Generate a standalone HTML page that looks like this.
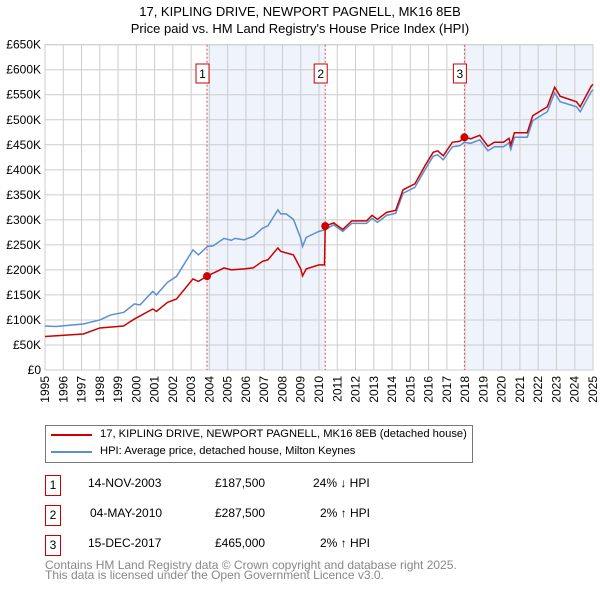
<!DOCTYPE html>
<html><head><meta charset="utf-8">
<style>
body{margin:0;background:#fff;font-family:"Liberation Sans","DejaVu Sans",sans-serif;}
#wrap{position:relative;width:600px;height:590px;overflow:hidden;}
.t{position:absolute;font-size:12px;color:#000;white-space:nowrap;}
.badge{position:absolute;width:14px;height:19px;border:1px solid #c00;font-size:12px;text-align:center;line-height:19px;}
</style></head><body>
<div id="wrap">
<svg id="chart" width="600" height="420" style="position:absolute;left:0;top:0">
<text x="300" y="16" text-anchor="middle" font-size="13">17, KIPLING DRIVE, NEWPORT PAGNELL, MK16 8EB</text>
<text x="300" y="33" text-anchor="middle" font-size="13">Price paid vs. HM Land Registry's House Price Index (HPI)</text>
<g id="g"></g>
</svg>
<div style="position:absolute;left:45px;top:425px;width:426px;height:36px;border:1px solid #777;">
<div style="position:absolute;left:5px;top:8px;width:41px;height:2px;background:#c00"></div>
<div class="t" style="left:54px;top:2px;font-size:11.2px">17, KIPLING DRIVE, NEWPORT PAGNELL, MK16 8EB (detached house)</div>
<div style="position:absolute;left:5px;top:25px;width:41px;height:2px;background:#5b8fd0"></div>
<div class="t" style="left:54px;top:19px;font-size:11.2px">HPI: Average price, detached house, Milton Keynes</div>
</div>
<div>
<div class="badge" style="left:45px;top:475px">1</div>
<div class="t" style="left:88px;top:476px">14-NOV-2003</div>
<div class="t" style="left:215px;top:476px">£187,500</div>
<div class="t" style="left:313px;top:476px">24% ↓ HPI</div>
<div class="badge" style="left:45px;top:505px">2</div>
<div class="t" style="left:90px;top:506px">04-MAY-2010</div>
<div class="t" style="left:215px;top:506px">£287,500</div>
<div class="t" style="left:320px;top:506px">2% ↑ HPI</div>
<div class="badge" style="left:45px;top:535px">3</div>
<div class="t" style="left:88px;top:536px">15-DEC-2017</div>
<div class="t" style="left:215px;top:536px">£465,000</div>
<div class="t" style="left:320px;top:536px">2% ↑ HPI</div>
</div>
<div class="t" style="left:45px;top:560px;color:#888;font-size:12px;line-height:10px">Contains HM Land Registry data © Crown copyright and database right 2025.<br>This data is licensed under the Open Government Licence v3.0.</div>
</div>
<script>
const yTicks=[0,50,100,150,200,250,300,350,400,450,500,550,600,650];
const yTickLabels=["£0","£50K","£100K","£150K","£200K","£250K","£300K","£350K","£400K","£450K","£500K","£550K","£600K","£650K"];
const xYears=[1995,1996,1997,1998,1999,2000,2001,2002,2003,2004,2005,2006,2007,2008,2009,2010,2011,2012,2013,2014,2015,2016,2017,2018,2019,2020,2021,2022,2023,2024,2025];
const saleDates=[2003.87,2010.34,2017.96];
const salePrices=[187.5,287.5,465];
const saleLabels=["1","2","3"];
const hpiDates=[1995.0,1995.6,1997.1,1998.0,1998.6,1999.3,1999.9,2000.2,2000.9,2001.1,2001.7,2002.2,2003.1,2003.4,2003.9,2004.2,2004.8,2005.2,2005.4,2005.9,2006.4,2006.9,2007.2,2007.75,2007.9,2008.2,2008.6,2009.0,2009.1,2009.3,2010.0,2010.3,2010.8,2011.3,2011.8,2012.6,2012.9,2013.2,2013.7,2014.2,2014.6,2015.25,2015.8,2016.25,2016.5,2016.8,2017.3,2017.7,2017.95,2018.3,2018.8,2019.25,2019.6,2020.1,2020.4,2020.5,2020.7,2021.4,2021.7,2022.5,2022.9,2023.2,2024.1,2024.3,2024.9,2025.0];
const hpiValues=[88,87,92,100,110,115,132,130,157,150,175,187,240,230,247,248,263,259,263,260,267,283,288,320,312,312,301,263,247,265,277,280,290,277,293,293,303,295,309,313,353,365,400,427,430,420,446,448,455,453,460,438,446,446,454,441,465,465,498,516,554,536,526,516,556,560];
const propDates=[1995.0,1997.1,1998.0,1999.3,1999.9,2000.9,2001.1,2001.7,2002.2,2003.1,2003.4,2003.87,2004.8,2005.2,2005.9,2006.4,2006.9,2007.2,2007.75,2007.9,2008.6,2009.0,2009.1,2009.3,2010.0,2010.3,2010.34,2010.8,2011.3,2011.8,2012.6,2012.9,2013.2,2013.7,2014.2,2014.6,2015.25,2015.8,2016.25,2016.5,2016.8,2017.3,2017.7,2017.96,2018.3,2018.8,2019.25,2019.6,2020.1,2020.4,2020.5,2020.7,2021.4,2021.7,2022.5,2022.9,2023.2,2024.1,2024.3,2024.9,2025.0];
const propValues=[67,72,84,88,102,122,117,135,142,182,177,187.5,204,200,202,204,217,220,244,237,230,202,188,202,210,210,287.5,294,281,298,298,309,301,315,319,360,372,408,435,438,428,455,457,465,462,469,447,455,455,463,450,474,474,508,526,565,547,536,526,567,571];
const X0=45,X1=593,Y0=370,Y1=44.7;
const xs=y=>X0+(y-1995)/30*(X1-X0);
const ys=v=>Y0-v/650*(Y0-Y1);
const NS="http://www.w3.org/2000/svg";
const g=document.getElementById('g');
function mk(tag,attrs){const e=document.createElementNS(NS,tag);for(const k in attrs)e.setAttribute(k,attrs[k]);g.appendChild(e);return e;}
const sh1=mk('rect',{x:xs(saleDates[0]),y:Y1,width:xs(saleDates[1])-xs(saleDates[0]),height:Y0-Y1,fill:'#eef3fc'});


const sh2=mk('rect',{x:xs(saleDates[2]),y:Y1,width:X1-xs(saleDates[2]),height:Y0-Y1,fill:'#eef3fc'});


yTicks.forEach((v,i)=>{
 const l=mk('line',{x1:X0,x2:X1,y1:ys(v),y2:ys(v),stroke:'#ccc','stroke-width':1});
 
 
 const t=mk('text',{x:41,y:ys(v)+4,'text-anchor':'end','font-size':12});
 t.textContent=yTickLabels[i];
 
 
});
xYears.forEach(yr=>{
 const l=mk('line',{x1:xs(yr),x2:xs(yr),y1:Y1,y2:Y0,stroke:'#ccc','stroke-width':1});
 
 
 const t=mk('text',{x:0,y:0,'text-anchor':'end','font-size':12,transform:`translate(${xs(yr)+4},376) rotate(-90)`});
 t.textContent=yr;
 
 
});
const fr=mk('rect',{x:X0,y:Y1,width:X1-X0,height:Y0-Y1,fill:'none',stroke:'#ccc'});


saleDates.forEach((d,i)=>{
 const l=mk('line',{x1:xs(d),x2:xs(d),y1:Y1,y2:Y0,stroke:'#e05050','stroke-width':1,'stroke-dasharray':'2,2'});
 
 
 const r=mk('rect',{x:xs(d)-11,y:64,width:13,height:19,fill:'#fff',stroke:'#c00'});
 
 
 const t=mk('text',{x:xs(d)-4.5,y:78,'text-anchor':'middle','font-size':12});
 t.textContent=saleLabels[i];
 
 
});
const hp=mk('polyline',{points:hpiDates.map((d,i)=>xs(d)+','+ys(hpiValues[i])).join(' '),fill:'none',stroke:'#5b8fd0','stroke-width':1.5});


const pp=mk('polyline',{points:propDates.map((d,i)=>xs(d)+','+ys(propValues[i])).join(' '),fill:'none',stroke:'#c00','stroke-width':1.5});


saleDates.forEach((d,i)=>{
 const c=mk('circle',{cx:xs(d),cy:ys(salePrices[i]),r:4,fill:'#c00'});
 
 
});
</script>
</body></html>
